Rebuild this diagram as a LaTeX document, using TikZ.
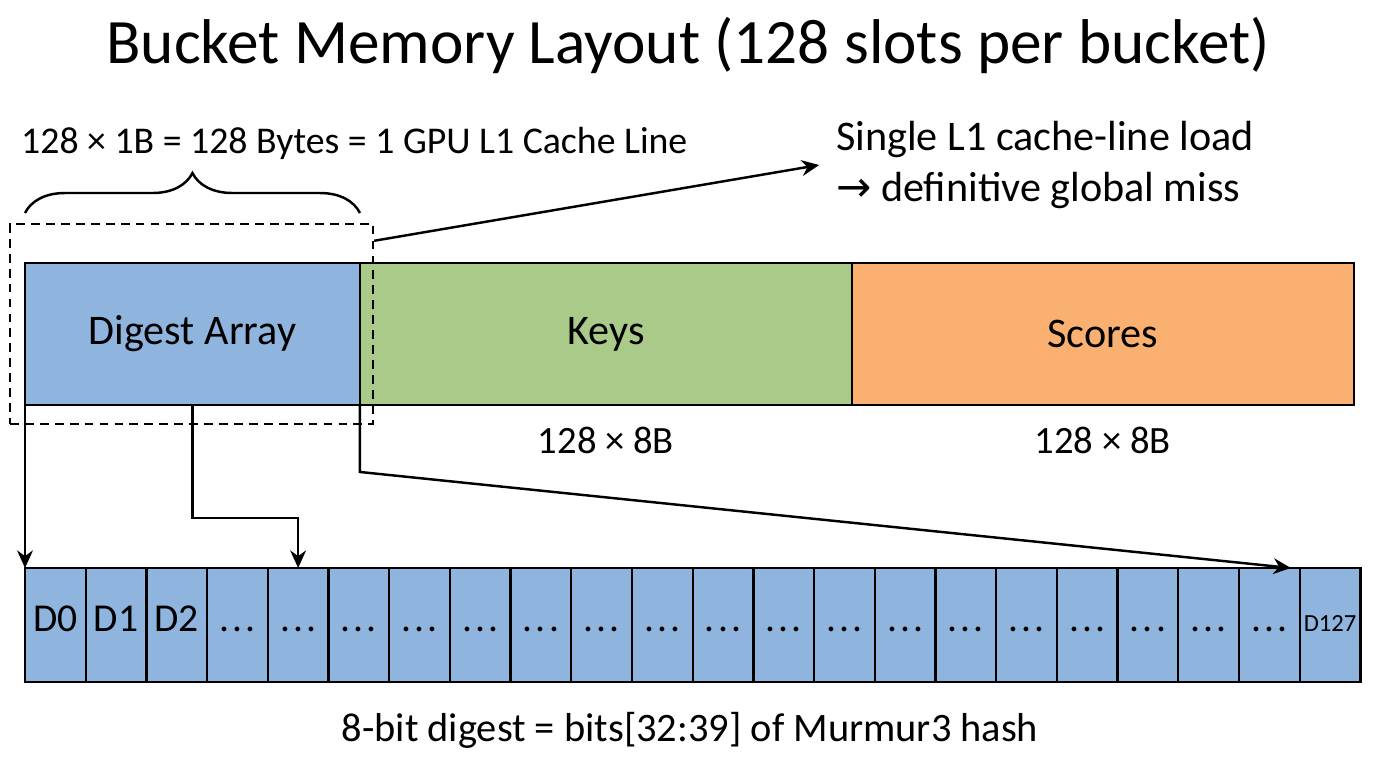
\documentclass[tikz,border=0pt]{standalone}
\usepackage{fontspec}
\setmainfont{Carlito}
\newfontfamily\arrowfont{DejaVu Sans}
\usetikzlibrary{positioning,calc,fit,arrows.meta,decorations.pathreplacing}

\definecolor{digestblue}{RGB}{143,180,222}
\definecolor{keygreen}{RGB}{170,202,138}
\definecolor{scoreorange}{RGB}{250,176,112}

\newcommand{\slotdots}{.\kern0.08em.\kern0.08em.}

\tikzset{
  segment/.style={draw, line width=1.3pt, outer sep=0pt, minimum height=2.84cm,
    font=\fontsize{24}{28}\selectfont},
  cell/.style={draw, line width=1.3pt, fill=digestblue, outer sep=0pt, inner sep=0pt,
    minimum width=1.214cm, minimum height=2.28cm, text height=1.5ex, text depth=0pt,
    font=\fontsize{22.5}{26}\selectfont},
  sizetext/.style={font=\fontsize{22}{26}\selectfont},
  notetext/.style={font=\fontsize{24}{28.5}\selectfont, align=left, inner sep=0pt},
}

\begin{document}
\begin{tikzpicture}[x=0.02cm, y=-0.02cm, >={Stealth[length=10pt,width=9pt]}, line width=1.4pt]
    \useasboundingbox (0,0) rectangle (1376,768);

    % title
    \node[font=\fontsize{36}{40}\selectfont] (title) at (688,45) {Bucket Memory Layout (128 slots per bucket)};

    % bucket segments
    \node[segment, fill=digestblue, minimum width=6.7cm, anchor=north west] (digest) at (25,263) {Digest Array};
    \node[segment, fill=keygreen, minimum width=9.84cm, right=0pt of digest] (keys) {Keys};
    \node[segment, fill=scoreorange, minimum width=10.04cm, right=0pt of keys] (scores) {Scores};
    \node[sizetext, below=0.3cm of keys] (keysize) {128 × 8B};
    \node[sizetext, below=0.3cm of scores] (scoresize) {128 × 8B};

    % one cache line
    \draw[decorate, decoration={brace, amplitude=0.8cm}]
        ($(digest.north west)+(0,-50)$) -- ($(digest.north east)+(0,-50)$);
    \node[sizetext, font=\fontsize{21.5}{26}\selectfont, anchor=west, inner sep=0pt] (linesize) at (20,143)
        {128 × 1B = 128 Bytes = 1 GPU L1 Cache Line};
    \node[fit={(10,224) (373,424)}, inner sep=0pt, draw, dash pattern=on 5pt off 3.5pt] (l1box) {};

    \node[notetext, anchor=west] (note) at (835,165)
        {Single L1 cache-line load\\{\arrowfont →} definitive global miss};
    \draw[->] ($(l1box.north east)+(0,18)$) -- ([xshift=-9pt]note.west);

    % digest slots
    \foreach \lbl [count=\i from 0] in {D0,D1,D2,\slotdots,\slotdots,\slotdots,\slotdots,\slotdots,\slotdots,\slotdots,\slotdots,\slotdots,\slotdots,\slotdots,\slotdots,\slotdots,\slotdots,\slotdots,\slotdots,\slotdots,\slotdots,{\fontsize{14}{14}\selectfont D127}}
        \node[cell, anchor=north west] (c\i) at (25+\i*60.7,568) {\lbl};

    \draw[->] (digest.south west) -- (c0.north west);
    \draw[->] (digest.south) -- ++(0,113) -| (c4.north);
    \draw[->] (digest.south east) -- ++(0,67) -- ([xshift=-5pt]c21.north west);

    \node[sizetext, font=\fontsize{23}{27}\selectfont] (hashnote) at (690,730) {8-bit digest = bits[32:39] of Murmur3 hash};
\end{tikzpicture}
\end{document}
